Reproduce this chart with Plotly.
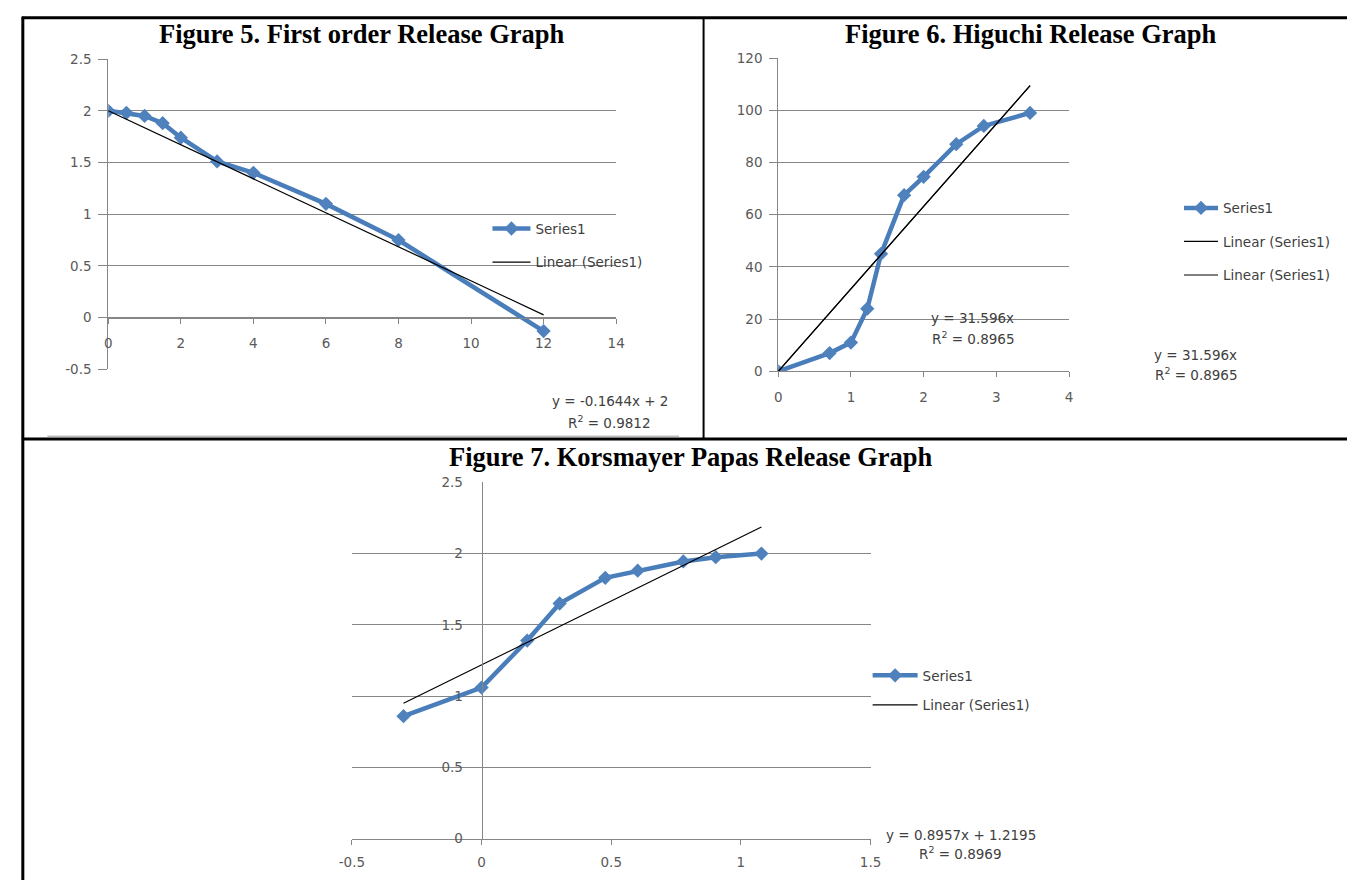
import plotly.graph_objects as go

W, H = 1358, 888

# ---------------- data ----------------
# Figure 5: first order
fo_time = [0, 0.5, 1, 1.5, 2, 3, 4, 6, 8, 12]
fo_log_remaining = [2.0, 1.98, 1.95, 1.88, 1.74, 1.51, 1.40, 1.10, 0.75, -0.13]
fo_slope, fo_intercept, fo_r2 = -0.1644, 2.0, 0.9812
fo_xticks = [0, 2, 4, 6, 8, 10, 12, 14]
fo_yticks = [-0.5, 0, 0.5, 1, 1.5, 2, 2.5]
fo_yticktext = ["-0.5", "0", "0.5", "1", "1.5", "2", "2.5"]

# Figure 6: Higuchi
hg_sqrt_time = [0, 0.707, 1, 1.225, 1.414, 1.732, 2, 2.449, 2.828, 3.464]
hg_release = [0, 7, 11, 24, 45, 67.5, 74.5, 87, 94, 99]
hg_slope, hg_r2 = 31.596, 0.8965
hg_xticks = [0, 1, 2, 3, 4]
hg_yticks = [0, 20, 40, 60, 80, 100, 120]

# Figure 7: Korsmeyer-Peppas
kp_log_time = [-0.301, 0, 0.176, 0.301, 0.477, 0.602, 0.778, 0.903, 1.079]
kp_log_release = [0.86, 1.06, 1.39, 1.65, 1.83, 1.88, 1.945, 1.975, 2.0]
kp_slope, kp_intercept, kp_r2 = 0.8957, 1.2195, 0.8969
kp_xticks = [-0.5, 0, 0.5, 1, 1.5]
kp_xticktext = ["-0.5", "0", "0.5", "1", "1.5"]
kp_yticks = [0, 0.5, 1, 1.5, 2, 2.5]

# ---------------- styles ----------------
BLUE_LINE = "#4A7EBB"
BLUE_MARK = "#4F81BD"
GRID = "#868686"
TICKC = "#595959"
TXT = "#404040"
SANS = "DejaVu Sans"
SERIF = "Liberation Serif"
FS = 13.5


def px_x(p):
    return p / W


def px_y(p):
    return 1 - p / H


fig = go.Figure()


def series(x, y, xa, ya, legend, group):
    fig.add_trace(go.Scatter(
        x=x, y=y, xaxis=xa, yaxis=ya, mode="lines+markers", name="Series1",
        line=dict(color=BLUE_LINE, width=4.5),
        marker=dict(symbol="diamond", size=11, color=BLUE_MARK),
        legend=legend, legendgroup=group + "a", showlegend=True))


def trend(x, slope, intercept, xa, ya, legend, group):
    xs = [min(x), max(x)]
    ys = [slope * v + intercept for v in xs]
    fig.add_trace(go.Scatter(
        x=xs, y=ys, xaxis=xa, yaxis=ya, mode="lines", name="Linear (Series1)",
        line=dict(color="black", width=1.2),
        legend=legend, legendgroup=group, showlegend=True))


# Figure 5
series(fo_time, fo_log_remaining, "x", "y", "legend", "f5")
trend(fo_time, fo_slope, fo_intercept, "x", "y", "legend", "f5b")
# Figure 6 (trendline listed twice in the original legend)
series(hg_sqrt_time, hg_release, "x2", "y2", "legend2", "f6")
trend(hg_sqrt_time, hg_slope, 0, "x2", "y2", "legend2", "f6b")
trend(hg_sqrt_time, hg_slope, 0, "x2", "y2", "legend2", "f6c")
# Figure 7
series(kp_log_time, kp_log_release, "x3", "y3", "legend3", "f7")
trend(kp_log_time, kp_slope, kp_intercept, "x3", "y3", "legend3", "f7b")

tickfont = dict(family=SANS, size=FS, color=TICKC)

# domains in pixels
d5x, d5y = (97, 614), (52, 368)
d6x, d6y = (779, 1075), (51, 370)
d7x, d7y = (345, 873), (483, 846)

r5x, r5y = [0, 14], [-0.5, 2.5]
r6x, r6y = [0, 4], [0, 120]
r7x, r7y = [-0.5, 1.5], [0, 2.5]

# position of x axis (y=0) in fig 5
pos5 = px_y(d5y[1]) + (0 - r5y[0]) / (r5y[1] - r5y[0]) * (px_y(d5y[0]) - px_y(d5y[1]))
# position of y axis (x=0) in fig 7
pos7 = px_x(d7x[0]) + (0 - r7x[0]) / (r7x[1] - r7x[0]) * (px_x(d7x[1]) - px_x(d7x[0]))

common_x = dict(showgrid=False, zeroline=False, showline=True, linecolor=GRID, linewidth=1,
                ticks="outside", ticklen=5, tickcolor=GRID, tickfont=tickfont, fixedrange=True)
common_y = dict(showgrid=True, gridcolor=GRID, gridwidth=1, zeroline=False, showline=True,
                linecolor=GRID, linewidth=1, tickcolor=GRID, tickfont=tickfont, fixedrange=True)

fig.update_layout(
    width=W, height=H, margin=dict(l=0, r=0, t=0, b=0),
    paper_bgcolor="white", plot_bgcolor="white",
    xaxis=dict(common_x, domain=[px_x(d5x[0]), px_x(d5x[1])], range=r5x, anchor="free",
               position=pos5, tickvals=fo_xticks, ticklabelstandoff=8),
    yaxis=dict(common_y, domain=[px_y(d5y[1]), px_y(d5y[0])], range=r5y, anchor="x",
               tickvals=fo_yticks, ticktext=fo_yticktext, ticks="outside", ticklen=9,
               ticklabelstandoff=4),
    xaxis2=dict(common_x, domain=[px_x(d6x[0]), px_x(d6x[1])], range=r6x, anchor="y2",
                tickvals=hg_xticks, ticklabelstandoff=8),
    yaxis2=dict(common_y, domain=[px_y(d6y[1]), px_y(d6y[0])], range=r6y, anchor="x2",
                tickvals=hg_yticks, ticks="outside", ticklen=8, ticklabelstandoff=4),
    xaxis3=dict(common_x, domain=[px_x(d7x[0]), px_x(d7x[1])], range=r7x, anchor="y3",
                tickvals=kp_xticks, ticktext=kp_xticktext, ticklabelstandoff=6),
    yaxis3=dict(common_y, domain=[px_y(d7y[1]), px_y(d7y[0])], range=r7y, anchor="free",
                position=pos7, tickvals=kp_yticks, ticks="", ticklabelstandoff=16),
    legend=dict(x=px_x(483), y=px_y(209), xanchor="left", yanchor="top", itemwidth=38,
                font=dict(family=SANS, size=FS, color=TXT), bgcolor="rgba(0,0,0,0)",
                traceorder="grouped", tracegroupgap=13),
    legend2=dict(x=px_x(1187), y=px_y(188), xanchor="left", yanchor="top", itemwidth=34,
                 font=dict(family=SANS, size=FS, color=TXT), bgcolor="rgba(0,0,0,0)",
                 traceorder="grouped", tracegroupgap=13),
    legend3=dict(x=px_x(870), y=px_y(664), xanchor="left", yanchor="top", itemwidth=45,
                 font=dict(family=SANS, size=FS, color=TXT), bgcolor="rgba(0,0,0,0)",
                 traceorder="grouped", tracegroupgap=9),
    showlegend=True,
)

# ---------------- titles & equations ----------------
def note(text, xp, yp, size=FS, family=SANS, color=TXT):
    fig.add_annotation(text=text, x=px_x(xp), y=px_y(yp), xref="paper", yref="paper",
                       showarrow=False, xanchor="center", yanchor="middle",
                       font=dict(family=family, size=size, color=color))


note("<b>Figure 5. First order Release Graph</b>", 355, 26, 26.5, SERIF, "black")
note("<b>Figure 6. Higuchi Release Graph</b>", 1036, 26, 26.5, SERIF, "black")
note("<b>Figure 7. Korsmayer Papas Release Graph</b>", 690, 457, 26.5, SERIF, "black")

note(f"y = {fo_slope}x + {fo_intercept:g}", 608, 400)
note(f"R<sup>2</sup> = {fo_r2}", 607, 422)
note(f"y = {hg_slope}x", 977, 316)
note(f"R<sup>2</sup> = {hg_r2}", 978, 336)
note(f"y = {hg_slope}x", 1204, 353)
note(f"R<sup>2</sup> = {hg_r2}", 1205, 373)
note(f"y = {kp_slope}x + {kp_intercept}", 965, 842)
note(f"R<sup>2</sup> = {kp_r2}", 965, 861)

# ---------------- table borders ----------------
def hline(y, x0, x1, w, c="black"):
    fig.add_shape(type="line", xref="paper", yref="paper", x0=px_x(x0), x1=px_x(x1),
                  y0=px_y(y), y1=px_y(y), line=dict(color=c, width=w))


def vline(x, y0, y1, w, c="black"):
    fig.add_shape(type="line", xref="paper", yref="paper", x0=px_x(x), x1=px_x(x),
                  y0=px_y(y0), y1=px_y(y1), line=dict(color=c, width=w))


hline(10, 9, W, 3)
vline(10, 9, H, 3)
vline(703, 10, 439, 2)
hline(436, 35, 678, 1.5, "#bdbdbd")
hline(439, 9, W, 3)

fig.write_html(
    "out.html",
    config={"displayModeBar": False},
    post_script=(
        "document.body.style.margin='0px';document.body.style.overflow='hidden';"
        "var gd=document.getElementById('{plot_id}');"
        "gd.style.position='fixed';gd.style.left='0px';gd.style.top='0px';"
    ),
)
